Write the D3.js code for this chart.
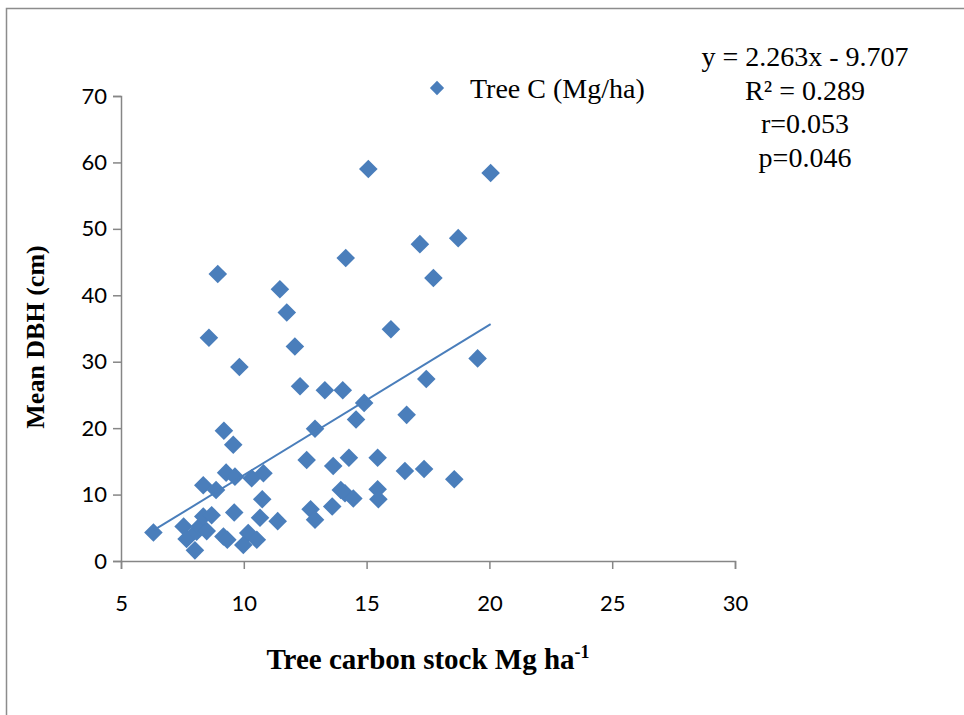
<!DOCTYPE html>
<html>
<head>
<meta charset="utf-8">
<script src="https://cdn.jsdelivr.net/npm/d3@7"></script>
<style>
  body { margin: 0; background: #fff; }
  .tick text { font-family: Lato, "Liberation Sans", sans-serif; font-size: 22px; fill: #000; }
  .axis path, .axis line { stroke: #868686; stroke-width: 1.5; }
</style>
</head>
<body>
<div class="chart"></div>
<script>
// Tree carbon stock (Mg/ha) vs mean DBH (cm)
var carbonStock = [6.32, 7.55, 7.67, 8.01, 8.08, 8.2, 8.35, 8.49, 8.69, 8.35, 8.87, 9.17, 9.33,
    9.19, 9.57, 9.28, 9.64, 9.61, 10.18, 9.98, 10.53, 10.32, 10.8, 10.75, 10.66, 11.38,
    12.56, 12.9, 12.72, 12.9, 12.29, 13.3, 14.03, 14.9, 14.57, 16.63, 13.64, 14.28, 15.45,
    16.56, 17.34, 18.57, 13.95, 14.12, 14.46, 15.45, 15.48, 13.6, 17.43, 15.07, 20.05,
    17.17, 18.73, 14.15, 17.72, 8.94, 11.47, 11.75, 8.58, 15.99, 12.08, 9.82, 19.52];
var meanDBH = [4.3, 5.2, 3.3, 1.6, 4.4, 5.2, 6.7, 4.5, 6.9, 11.4, 10.7, 3.7, 3.2,
    19.6, 17.5, 13.3, 12.7, 7.3, 4.2, 2.4, 3.2, 12.45, 13.2, 9.3, 6.5, 6.0,
    15.2, 19.9, 7.8, 6.2, 26.3, 25.7, 25.7, 23.8, 21.3, 22.0, 14.3, 15.55, 15.55,
    13.55, 13.85, 12.3, 10.7, 10.2, 9.4, 10.8, 9.3, 8.2, 27.4, 59.0, 58.4,
    47.7, 48.6, 45.6, 42.6, 43.2, 40.9, 37.4, 33.6, 34.9, 32.3, 29.2, 30.5];

var xTicks = [5, 10, 15, 20, 25, 30];
var yTicks = [0, 10, 20, 30, 40, 50, 60, 70];
var trend = { slope: 2.263, intercept: -9.707 };
var statLines = ["y = 2.263x - 9.707", "R\u00b2 = 0.289", "r=0.053", "p=0.046"];
var seriesName = "Tree C (Mg/ha)";

var svgWidth = 964;
var svgHeight = 715;
var margin = { top: 96, right: 229, bottom: 154, left: 121 };
var width = svgWidth - margin.left - margin.right;
var height = svgHeight - margin.top - margin.bottom;
var blue = "#4a7ebb";

var svg = d3.select(".chart")
    .append("svg")
    .attr("width", svgWidth)
    .attr("height", svgHeight);

// outer frame, only left and top edges show
svg.append("path")
    .attr("d", "M6.5,715 V8.5 H964")
    .attr("fill", "none")
    .attr("stroke", "#8c8c8c")
    .attr("stroke-width", 1.5);

var chart = svg.append("g")
    .attr("transform", "translate(" + margin.left + "," + margin.top + ")");

var xScale = d3.scaleLinear().domain([5, 30]).range([0, width]);
var yScale = d3.scaleLinear().domain([0, 70]).range([height, 0]);

// axes
chart.append("g")
    .attr("class", "axis")
    .attr("transform", "translate(0," + height + ")")
    .call(d3.axisBottom(xScale).tickValues(xTicks).tickSizeOuter(0).tickSize(8).tickPadding(26));

chart.append("g")
    .attr("class", "axis")
    .call(d3.axisLeft(yScale).tickValues(yTicks).tickSizeOuter(0).tickSize(8).tickPadding(6));

// scatter points as diamonds
var points = carbonStock.map(function (x, i) { return { x: x, y: meanDBH[i] }; });
var diamond = d3.symbol().type(d3.symbolDiamond2).size(220);

chart.selectAll(".pt")
    .data(points)
    .enter()
    .append("path")
    .attr("class", "pt")
    .attr("d", diamond)
    .attr("transform", function (d) {
        return "translate(" + xScale(d.x) + "," + yScale(d.y) + ")";
    })
    .attr("fill", blue);

// linear trend line across the data range
var xMin = d3.min(carbonStock);
var xMax = d3.max(carbonStock);
chart.append("line")
    .attr("x1", xScale(xMin))
    .attr("y1", yScale(trend.slope * xMin + trend.intercept))
    .attr("x2", xScale(xMax))
    .attr("y2", yScale(trend.slope * xMax + trend.intercept))
    .attr("stroke", blue)
    .attr("stroke-width", 2);

// legend
svg.append("path")
    .attr("d", d3.symbol().type(d3.symbolDiamond2).size(130))
    .attr("transform", "translate(437,88)")
    .attr("fill", blue);

svg.append("text")
    .attr("x", 470)
    .attr("y", 98)
    .style("font-family", "'Liberation Serif', serif")
    .style("font-size", "28px")
    .text(seriesName);

// regression stats
svg.selectAll(".stat")
    .data(statLines)
    .enter()
    .append("text")
    .attr("class", "stat")
    .attr("x", 805)
    .attr("y", function (d, i) { return 66 + i * 33.5; })
    .attr("text-anchor", "middle")
    .style("font-family", "'Liberation Serif', serif")
    .style("font-size", "28px")
    .text(function (d) { return d; });

// y-axis label
svg.append("text")
    .attr("transform", "translate(44,337) rotate(-90)")
    .attr("text-anchor", "middle")
    .style("font-family", "'Liberation Serif', serif")
    .style("font-size", "26px")
    .style("font-weight", "bold")
    .text("Mean DBH (cm)");

// x-axis label with superscript
var xLabel = svg.append("text")
    .attr("x", 428)
    .attr("y", 669)
    .attr("text-anchor", "middle")
    .style("font-family", "'Liberation Serif', serif")
    .style("font-size", "29px")
    .style("font-weight", "bold");
xLabel.append("tspan").text("Tree carbon stock Mg ha");
xLabel.append("tspan")
    .attr("dy", -11)
    .style("font-size", "18px")
    .text("-1");
</script>
</body>
</html>
